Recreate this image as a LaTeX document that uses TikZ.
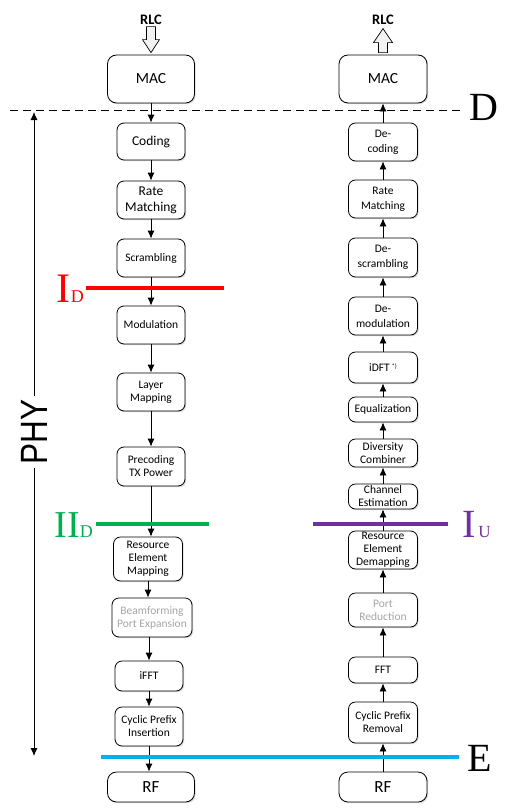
\documentclass[tikz,border=0pt]{standalone}
\usepackage{fontspec}
\setmainfont{Carlito}
\newfontfamily\cutfont{Liberation Serif}
\newfontfamily\phyfont{Liberation Sans}
\usepackage{tikz}
\usetikzlibrary{arrows.meta,calc,positioning,shadows}
\usepackage{xcolor}
\definecolor{cutred}{HTML}{FF0000}
\definecolor{cutgreen}{HTML}{00B050}
\definecolor{cutpurple}{HTML}{7030A0}
\definecolor{cutblue}{HTML}{00B0F0}
\definecolor{optgray}{HTML}{A6A6A6}

\begin{document}
\begin{tikzpicture}[
  x=1pt, y=-1pt,
  >={Latex[length=8pt,width=7pt]},
  box/.style={draw=black, fill=white, rounded corners=7pt, minimum width=69pt,
    minimum height=38pt, align=center, inner sep=1pt, line width=0.8pt,
    font=\fontsize{11.5}{13}\selectfont,
    drop shadow={shadow xshift=1.2pt, shadow yshift=-1.2pt, opacity=0.3}},
  bigbox/.style={box, minimum width=87pt, minimum height=30pt,
    rounded corners=9pt},
  optbox/.style={box, text=optgray},
  flow/.style={->, line width=0.8pt},
  hollow/.style={draw=black, fill=gray!10, line width=0.7pt},
  cut/.style={line width=4pt}
]
\useasboundingbox (0,0) rectangle (511,811);

% downlink chain
\node (rlcL) at (151,20) {\fontsize{14.5}{15}\selectfont\bfseries RLC};
\node[bigbox,minimum height=48pt,font=\fontsize{15.5}{16}\selectfont] (macL) at (151,79) {MAC};
\node[box,minimum width=68pt,minimum height=37pt,font=\fontsize{13.5}{16}\selectfont] (coding) at (151,141.5) {Coding};
\node[box,minimum width=68pt,font=\fontsize{13.5}{16}\selectfont] (rateL) at (151,200) {Rate\\Matching};
\node[box,minimum width=68pt] (scramb) at (151,258) {Scrambling};
\node[box,minimum width=68pt] (modul) at (151,325) {Modulation};
\node[box,minimum width=68pt] (layer) at (151,392) {Layer\\Mapping};
\node[box,minimum width=68pt,minimum height=39pt] (precod) at (151,466.5) {Precoding\\TX Power};
\node[box,minimum height=44pt] (remap) at (148,559) {Resource\\Element\\Mapping};
\node[optbox,minimum width=80pt,minimum height=39pt] (beam) at (152,617.5) {Beamforming\\Port Expansion};
\node[box,minimum width=68pt,minimum height=30pt] (ifft) at (149,676) {iFFT};
\node[box,minimum width=68pt,minimum height=39pt] (cpi) at (149,726.5) {Cyclic Prefix\\Insertion};
\node[bigbox,font=\fontsize{17}{17}\selectfont] (rfL) at (151,787) {RF};

% uplink chain
\node (rlcR) at (383,20) {\fontsize{14.5}{15}\selectfont\bfseries RLC};
\node[bigbox,minimum width=88pt,minimum height=48pt,font=\fontsize{15.5}{16}\selectfont] (macR) at (383,79) {MAC};
\node[box,font=\fontsize{11.5}{15}\selectfont] (decod) at (383,142) {De-\\coding};
\node[box,font=\fontsize{11.5}{15}\selectfont] (rateR) at (383,199) {Rate\\Matching};
\node[box,minimum height=39pt,font=\fontsize{11.5}{15}\selectfont] (descr) at (383,257.5) {De-\\scrambling};
\node[box,font=\fontsize{11.5}{15}\selectfont] (demod) at (383,316) {De-\\modulation};
\node[box,minimum height=31pt] (idft) at (383,367.5) {iDFT\,\raisebox{0.6ex}{\fontsize{6.5}{6.5}\selectfont *)}};
\node[box,minimum height=25pt] (equal) at (383,409.5) {Equalization};
\node[box,minimum height=28pt] (divers) at (383,453) {Diversity\\Combiner};
\node[box,minimum height=25pt] (chest) at (383,496.5) {Channel\\Estimation};
\node[box] (redem) at (383,550) {Resource\\Element\\Demapping};
\node[optbox,minimum height=34pt] (portred) at (383,610) {Port\\Reduction};
\node[box,minimum height=26pt] (fft) at (383,670) {FFT};
\node[box,minimum height=41pt] (cpr) at (383,722.5) {Cyclic Prefix\\Removal};
\node[bigbox,minimum width=88pt,font=\fontsize{17}{17}\selectfont] (rfR) at (383,787) {RF};

% RLC interface arrows
\draw[hollow] ([yshift=2pt]macL.north) -- ++(-8.5,-13) -- ++(4,0) -- ++(0,-13)
  -- ++(9,0) -- ++(0,13) -- ++(4,0) -- cycle;
\draw[hollow] ([yshift=2pt]macR.north) -- ++(-4.5,0) -- ++(0,-10) -- ++(-5,0)
  -- ++(9.5,-14) -- ++(9.5,14) -- ++(-5,0) -- ++(0,10) -- cycle;

% downlink flow
\draw[flow] (macL.south) -- (coding.north);
\draw[flow] (coding.south) -- (rateL.north);
\draw[flow] (rateL.south) -- (scramb.north);
\draw[flow] (scramb.south) -- (modul.north);
\draw[flow] (modul.south) -- (layer.north);
\draw[flow] (layer.south) -- (precod.north);
\draw[flow] (precod.south) -- (precod.south |- remap.north);
\draw[flow] (remap.south) -- (remap.south |- beam.north);
\draw[flow] (beam.south -| ifft) -- (ifft.north);
\draw[flow] (ifft.south) -- (cpi.north);
\draw[flow] (cpi.south) -- (cpi.south |- rfL.north);

% uplink flow
\draw[flow] (rfR.north) -- (cpr.south);
\draw[flow] (cpr.north) -- (fft.south);
\draw[flow] (fft.north) -- (portred.south);
\draw[flow] (portred.north) -- (redem.south);
\draw[flow] (redem.north) -- (chest.south);
\draw[flow] (chest.north) -- (divers.south);
\draw[flow] (divers.north) -- (equal.south);
\draw[flow] (equal.north) -- (idft.south);
\draw[flow] (idft.north) -- (demod.south);
\draw[flow] (demod.north) -- (descr.south);
\draw[flow] (descr.north) -- (rateR.south);
\draw[flow] (rateR.north) -- (decod.south);
\draw[flow] (decod.north) -- (macR.south);

% split points
\draw[line width=0.9pt, dash pattern=on 8pt off 5pt] (10,110) -- (460,110);
\node[anchor=base west,inner sep=0pt,font=\cutfont\fontsize{40}{40}\selectfont] (splitD) at (469,120) {D};
\draw[cut,cutred] (86,288) -- (224,288);
\node[anchor=base east,inner sep=0pt,text=cutred,font=\cutfont] (splitID) at (84,302)
  {\fontsize{42}{42}\selectfont I\fontsize{18}{18}\selectfont D};
\draw[cut,cutgreen] (96,524) -- (209,524);
\node[anchor=base east,inner sep=0pt,text=cutgreen,font=\cutfont] (splitIID) at (93,537)
  {\fontsize{38}{38}\selectfont II\fontsize{18}{18}\selectfont D};
\draw[cut,cutpurple] (313,524) -- (448,524);
\node[anchor=base west,inner sep=0pt,text=cutpurple,font=\cutfont] (splitIU) at (462,537)
  {\fontsize{40}{40}\selectfont I\fontsize{17}{17}\selectfont\,U};
\draw[line width=3.5pt,cutblue] (101,757) -- (459,757);
\node[anchor=base west,inner sep=0pt,font=\cutfont\fontsize{40}{40}\selectfont] (splitE) at (467,771) {E};

% PHY span
\coordinate (phytop) at (34,112);
\coordinate (phybot) at (34,756);
\draw[<->, line width=0.8pt] (phytop) -- (phybot);
\node[fill=white, rotate=90, inner sep=4pt, font=\phyfont\fontsize{38}{38}\selectfont] (phy)
  at (34,432) {\scalebox{0.83}[1]{PHY}};
\end{tikzpicture}
\end{document}
